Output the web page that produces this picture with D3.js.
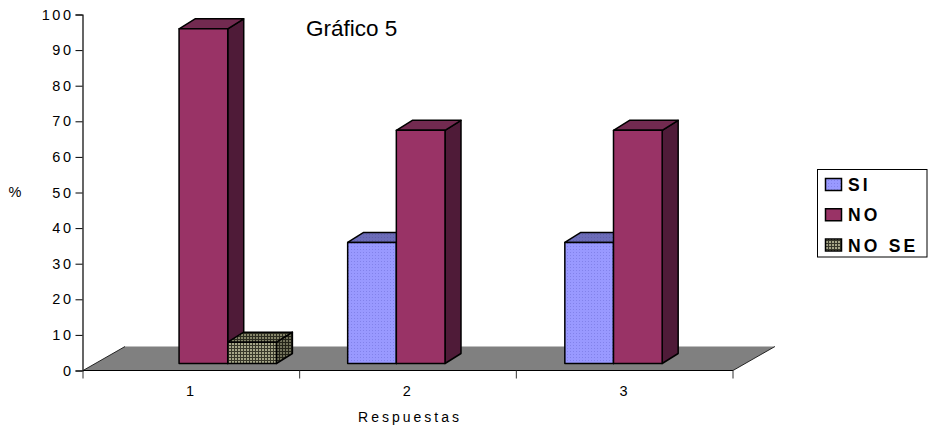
<!DOCTYPE html>
<html><head><meta charset="utf-8">
<script src="https://cdn.jsdelivr.net/npm/d3@7"></script>
<style>html,body{margin:0;padding:0;background:#fff}svg{display:block}text{font-family:"Liberation Sans",Arial,sans-serif;fill:#000}</style>
</head><body><svg id="c" width="928" height="430"></svg>
<script>
const categories = ["1","2","3"];
const seriesNames = ["SI","NO","NO SE"];
const valuesSI = [null,34,34];
const valuesNO = [94,65.5,65.5];
const valuesNOSE = [6,null,null];
const yTicks = [0,10,20,30,40,50,60,70,80,90,100];
const allValues = [valuesSI,valuesNO,valuesNOSE];

const svg = d3.select("#c");
const defs = svg.append("defs");
function dotPat(id,bg,dot,size,r){
  const p = defs.append("pattern").attr("id",id).attr("width",size).attr("height",size).attr("patternUnits","userSpaceOnUse");
  p.append("rect").attr("width",size).attr("height",size).attr("fill",bg);
  p.append("rect").attr("width",r).attr("height",r).attr("fill",dot);
}
function gridPat(id,bg,line,size){
  const p = defs.append("pattern").attr("id",id).attr("width",size).attr("height",size).attr("patternUnits","userSpaceOnUse");
  p.append("rect").attr("width",size).attr("height",size).attr("fill",bg);
  p.append("rect").attr("width",size).attr("height",1).attr("fill",line);
  p.append("rect").attr("width",1).attr("height",size).attr("fill",line);
}
dotPat("siF","#9999ff","#8282ea",3,1);
dotPat("siT","#6c6cb8","#5f5fa6",3,1);
gridPat("nsF","#a6a688","#38382a",3);
gridPat("nsT","#858569","#2c2c20",3);
gridPat("nsS","#70705a","#222218",3);

const depthX = 42, depthY = 24;
const x = d3.scaleBand().domain(categories).range([83,733]);
const y = d3.scaleLinear().domain([0,100]).range([370.5,14.5]);
const inner = d3.scaleBand().domain(seriesNames).range([47.4,193.4]);
const barBase = 363.5, barDX = 16, barDY = 10;
const unit = y(0)-y(1);

// floor
const floor = [[x.range()[0],y(0)],[x.range()[1],y(0)],[x.range()[1]+depthX,y(0)-depthY],[x.range()[0]+depthX,y(0)-depthY]];
svg.append("polygon").attr("points",floor.join(" ")).attr("fill","#808080");
svg.append("line").attr("x1",floor[1][0]).attr("y1",floor[1][1]).attr("x2",floor[2][0]).attr("y2",floor[2][1]).attr("stroke","#000").attr("stroke-width",.8);
svg.append("line").attr("x1",floor[0][0]).attr("y1",floor[0][1]).attr("x2",floor[3][0]).attr("y2",floor[3][1]).attr("stroke","#000").attr("stroke-width",.8);

// axes
const yAxis = svg.append("g").attr("transform","translate(82.5,0)").call(d3.axisLeft(y).tickValues(yTicks).tickSize(7).tickPadding(2));
const xAxis = svg.append("g").attr("transform",`translate(0,${y(0)})`).call(d3.axisBottom(x).tickSize(0).tickPadding(15));
xAxis.selectAll(".b").data(x.domain().concat(["end"])).enter().append("line").attr("class","b")
  .attr("x1",(d,i)=>x.range()[0]+i*x.bandwidth()).attr("x2",(d,i)=>x.range()[0]+i*x.bandwidth())
  .attr("y1",0).attr("y2",8).attr("stroke","#333");
svg.selectAll("g .domain").attr("stroke","#000").attr("stroke-width",1.2);
svg.selectAll("g text").style("font-size","14.5px").style("letter-spacing","2.5px").style("font-family",'"Liberation Sans",Arial,sans-serif');
xAxis.select(".domain").attr("d",`M83,0H733`);

// bars
const fills = {SI:["url(#siF)","url(#siT)","#4a4a80"],NO:["#993366","#722a50","#4f1b38"],"NO SE":["url(#nsF)","url(#nsT)","url(#nsS)"]};
const bars = svg.append("g").attr("stroke","#000").attr("stroke-width",1.5).attr("stroke-linejoin","round");
categories.forEach((c,ci)=>{
  seriesNames.forEach((s,si)=>{
    const v = allValues[si][ci];
    if(v==null) return;
    const x0 = x(c)+inner(s)+(ci==1?0.6:0)+(ci==2?1.1:0), x1 = x0+inner.bandwidth(), t = barBase-v*unit, b = barBase;
    const g = bars.append("g");
    g.append("polygon").attr("points",[[x1,t],[x1+barDX,t-barDY],[x1+barDX,b-barDY],[x1,b]].join(" ")).attr("fill",fills[s][2]);
    g.append("polygon").attr("points",[[x0,t],[x0+barDX,t-barDY],[x1+barDX,t-barDY],[x1,t]].join(" ")).attr("fill",fills[s][1]);
    g.append("rect").attr("x",x0).attr("y",t).attr("width",x1-x0).attr("height",b-t).attr("fill",fills[s][0]);
  });
});

// titles
svg.append("text").attr("x",306).attr("y",36).style("font-size","22.5px").text("Gráfico 5");
svg.append("text").attr("x",15).attr("y",197).attr("text-anchor","middle").style("font-size","14.5px").text("%");
svg.append("text").attr("x",410).attr("y",422).attr("text-anchor","middle").style("font-size","14px").style("letter-spacing","3px").text("Respuestas");

// legend
const lg = svg.append("g");
lg.append("rect").attr("x",817.5).attr("y",169.5).attr("width",109.5).attr("height",87.5).attr("fill","#fff").attr("stroke","#000");
const swatch = {SI:"url(#siF)",NO:"#993366","NO SE":"url(#nsF)"};
const rowY = d3.scalePoint().domain(seriesNames).range([184.5,245]);
seriesNames.forEach(s=>{
  lg.append("rect").attr("x",825.5).attr("y",rowY(s)-6).attr("width",16).attr("height",12).attr("fill",swatch[s]).attr("stroke","#000").attr("stroke-width",1.5);
  lg.append("text").attr("x",848).attr("y",rowY(s)+6.5).style("font-size","17.5px").style("font-weight","bold").style("letter-spacing","3.2px").text(s);
});
</script></body></html>
